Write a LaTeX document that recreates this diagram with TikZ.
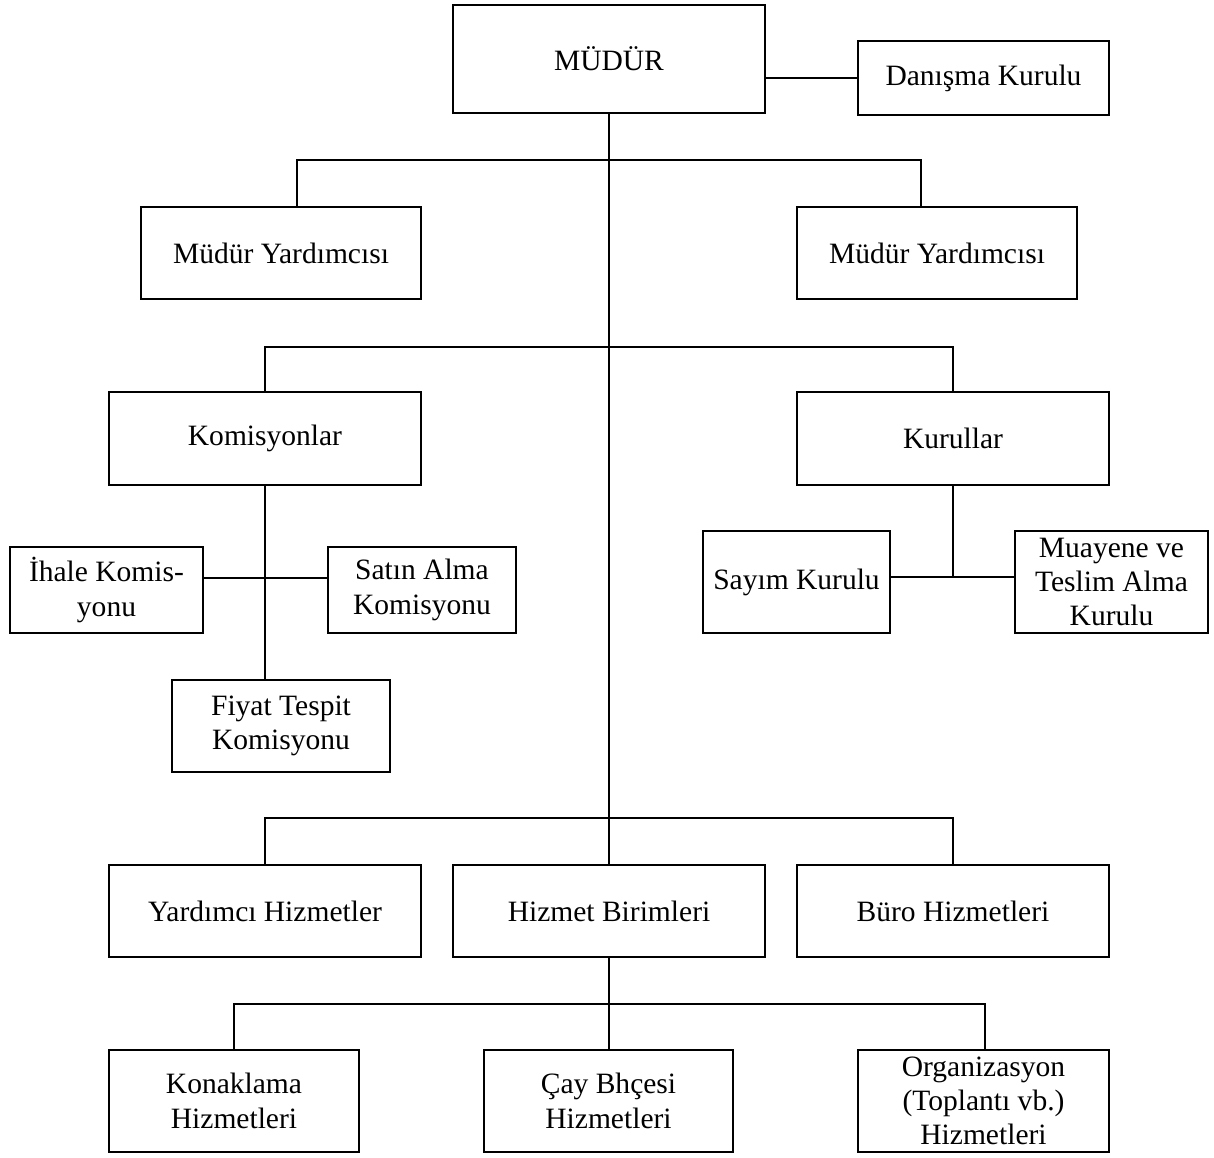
\documentclass[tikz,border=0pt]{standalone}
\usepackage{fontspec}
\setmainfont{Liberation Serif}
\tikzset{
	kutu/.style={draw, line width=1.1pt, inner sep=0pt, align=center, font=\fontsize{16.8}{19.5}\selectfont},
	hat/.style={line width=1.1pt}
}
\begin{document}
\begin{tikzpicture}[x=0.02cm, y=-0.02cm]
		\useasboundingbox (0,0) rectangle (1214,1157);
		\node[kutu, minimum width=6.24cm, minimum height=2.16cm] (mudur) at (609,59) {MÜDÜR};
		\node[kutu, minimum width=5.02cm, minimum height=1.48cm] (danisma) at (983.5,78) {Danışma Kurulu};
		\node[kutu, minimum width=5.6cm, minimum height=1.84cm] (yrdA) at (281,253) {Müdür Yardımcısı};
		\node[kutu, minimum width=5.6cm, minimum height=1.84cm] (yrdB) at (937,253) {Müdür Yardımcısı};
		\node[kutu, minimum width=6.24cm, minimum height=1.86cm] (komis) at (265,438.5) {Komisyonlar};
		\node[kutu, minimum width=6.24cm, minimum height=1.86cm] (kurul) at (953,438.5) {Kurullar};
		\node[kutu, minimum width=3.86cm, minimum height=1.72cm] (ihale) at (106.5,590) {İhale Komis-\\yonu};
		\node[kutu, minimum width=3.76cm, minimum height=1.72cm] (satin) at (422,590) {Satın Alma\\Komisyonu};
		\node[kutu, minimum width=4.36cm, minimum height=1.84cm] (fiyat) at (281,726) {Fiyat Tespit\\Komisyonu};
		\node[kutu, minimum width=3.74cm, minimum height=2.04cm] (sayim) at (796.5,582) {Sayım Kurulu};
		\node[kutu, minimum width=3.86cm, minimum height=2.04cm] (muayene) at (1111.5,582) {Muayene ve\\Teslim Alma\\Kurulu};
		\node[kutu, minimum width=6.24cm, minimum height=1.84cm] (yardimci) at (265,911) {Yardımcı Hizmetler};
		\node[kutu, minimum width=6.24cm, minimum height=1.84cm] (hizmet) at (609,911) {Hizmet Birimleri};
		\node[kutu, minimum width=6.24cm, minimum height=1.84cm] (buro) at (953,911) {Büro Hizmetleri};
		\node[kutu, minimum width=5.0cm, minimum height=2.04cm] (konak) at (234,1101) {Konaklama\\Hizmetleri};
		\node[kutu, minimum width=4.98cm, minimum height=2.04cm] (cay) at (608.5,1101) {Çay Bhçesi\\Hizmetleri};
		\node[kutu, minimum width=5.02cm, minimum height=2.04cm] (org) at (983.5,1101) {Organizasyon\\(Toplantı vb.)\\Hizmetleri};
		% baglanti noktalari
		\coordinate (yrdL) at (297,160);
		\coordinate (yrdR) at (921,160);
		\coordinate (orta) at (609,347);
		\coordinate (komh) at (265,578);
		\coordinate (kurh) at (953,577);
		\coordinate (alt) at (609,818);
		\coordinate (hizL) at (234,1004);
		\coordinate (hizR) at (985,1004);
		% cizgiler
		\draw[hat] (mudur.south) -- (hizmet.north);
		\draw[hat] (mudur.east |- danisma.west) -- (danisma.west);
		\draw[hat] (yrdA.north -| yrdL) -- (yrdL) -- (yrdR) -- (yrdB.north -| yrdR);
		\draw[hat] (komis.north) -- (komis.north |- orta) -- (kurul.north |- orta) -- (kurul.north);
		\draw[hat] (komis.south) -- (komis.south |- fiyat.north);
		\draw[hat] (ihale.east |- komh) -- (satin.west |- komh);
		\draw[hat] (kurul.south) -- (kurh);
		\draw[hat] (sayim.east |- kurh) -- (muayene.west |- kurh);
		\draw[hat] (yardimci.north) -- (yardimci.north |- alt) -- (buro.north |- alt) -- (buro.north);
		\draw[hat] (hizmet.south) -- (cay.north -| hizmet.south);
		\draw[hat] (konak.north -| hizL) -- (hizL) -- (hizR) -- (org.north -| hizR);
	\end{tikzpicture}
\end{document}
